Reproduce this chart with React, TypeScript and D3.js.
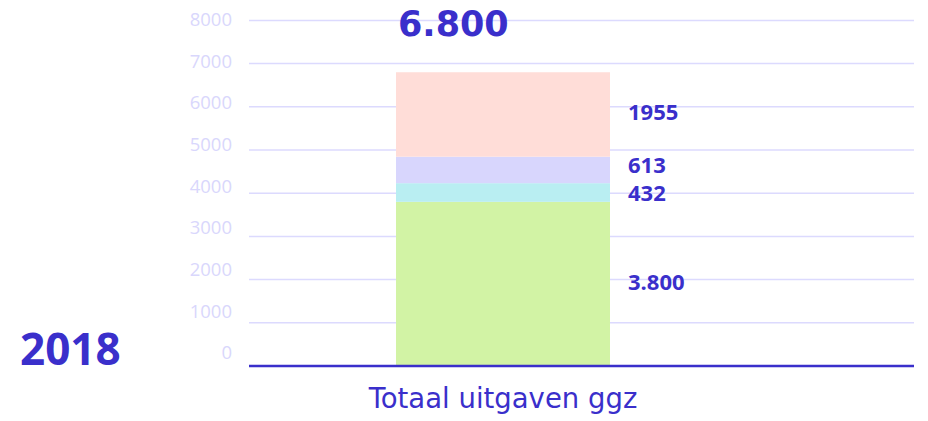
import React from "react";
import * as d3 from "d3";

const categories = ["Totaal uitgaven ggz"];
const segmentValues = [3800, 432, 613, 1955];
const segmentLabels = ["3.800", "432", "613", "1955"];
const segmentColors = ["#d2f3a5", "#b9eef2", "#d8d6fd", "#ffddd8"];
const totalLabel = "6.800";
const yearLabel = "2018";
const tickValues = [0, 1000, 2000, 3000, 4000, 5000, 6000, 7000, 8000];

const W = 928;
const H = 421;
const DARK = "#3a2fcb";
const GRID = "#dcdafe";
const TICK = "#d9d7fc";
const FONT = "'Open Sans', 'Noto Sans', sans-serif";
const WIDE = "'DejaVu Sans', sans-serif";

export default function App() {
  const y = d3.scaleLinear().domain([0, 8000]).range([366, 20.4]);
  const yLabel = d3.scaleLinear().domain([0, 8000]).range([351.7, 18.7]);
  const x = d3.scaleBand().domain(categories).range([396, 610]).padding(0);
  const gridX0 = 249;
  const gridX1 = 914;

  const stack = d3.stack<number[]>().keys(segmentValues.map((_, i) => String(i)))
    .value((d, k) => d[+k]);
  const series = stack([segmentValues]);

  const total = d3.sum(segmentValues);

  // label layout: segment middles, nudged up, then de-overlapped
  const pos = series.map((s) => (y(s[0][0]) + y(s[0][1])) / 2 - 3);
  const minGap = 28;
  for (let iter = 0; iter < 20; iter++) {
    for (let i = 0; i < pos.length - 1; i++) {
      const gap = pos[i] - pos[i + 1];
      if (gap < minGap) {
        const d = (minGap - gap) / 2;
        pos[i] += d;
        pos[i + 1] -= d;
      }
    }
  }

  const fmt = d3.format("d");
  const cat = categories[0];
  const bx = x(cat) as number;
  const bw = x.bandwidth();

  return (
    <svg
      width={W}
      height={H}
      style={{ position: "absolute", left: 0, top: 0, background: "#fff" }}
      fontFamily={FONT}
    >
      {tickValues.map((t) => (
        <g key={t}>
          {t > 0 && (
            <line x1={gridX0} x2={gridX1} y1={y(t)} y2={y(t)} stroke={GRID} strokeWidth={1.5} />
          )}
          <text
            x={232}
            y={yLabel(t)}
            textAnchor="end"
            dominantBaseline="central"
            fontSize={18.5}
            fill={TICK}
          >
            {fmt(t)}
          </text>
        </g>
      ))}

      {series.map((s, i) => (
        <rect
          key={i}
          x={bx}
          width={bw}
          y={y(s[0][1])}
          height={y(s[0][0]) - y(s[0][1])}
          fill={segmentColors[i]}
        />
      ))}

      <line x1={gridX0} x2={gridX1} y1={y(0)} y2={y(0)} stroke={DARK} strokeWidth={2.5} />

      {series.map((s, i) => (
        <text
          key={i}
          x={628}
          y={pos[i]}
          dominantBaseline="central"
          fontSize={22}
          fontWeight={700}
          fill={DARK}
        >
          {segmentLabels[i]}
        </text>
      ))}

      <text
        x={bx + 2}
        y={y(total) - 48}
        dominantBaseline="central"
        fontFamily={WIDE}
        fontSize={35}
        fontWeight={700}
        fill={DARK}
      >
        {totalLabel}
      </text>

      <text x={20} y={348} dominantBaseline="central" fontSize={44} fontWeight={700} fill={DARK}>
        {yearLabel}
      </text>

      <text
        x={bx + bw / 2}
        y={408}
        textAnchor="middle"
        fontFamily={WIDE}
        fontSize={27.5}
        fill={DARK}
      >
        {cat}
      </text>
    </svg>
  );
}
